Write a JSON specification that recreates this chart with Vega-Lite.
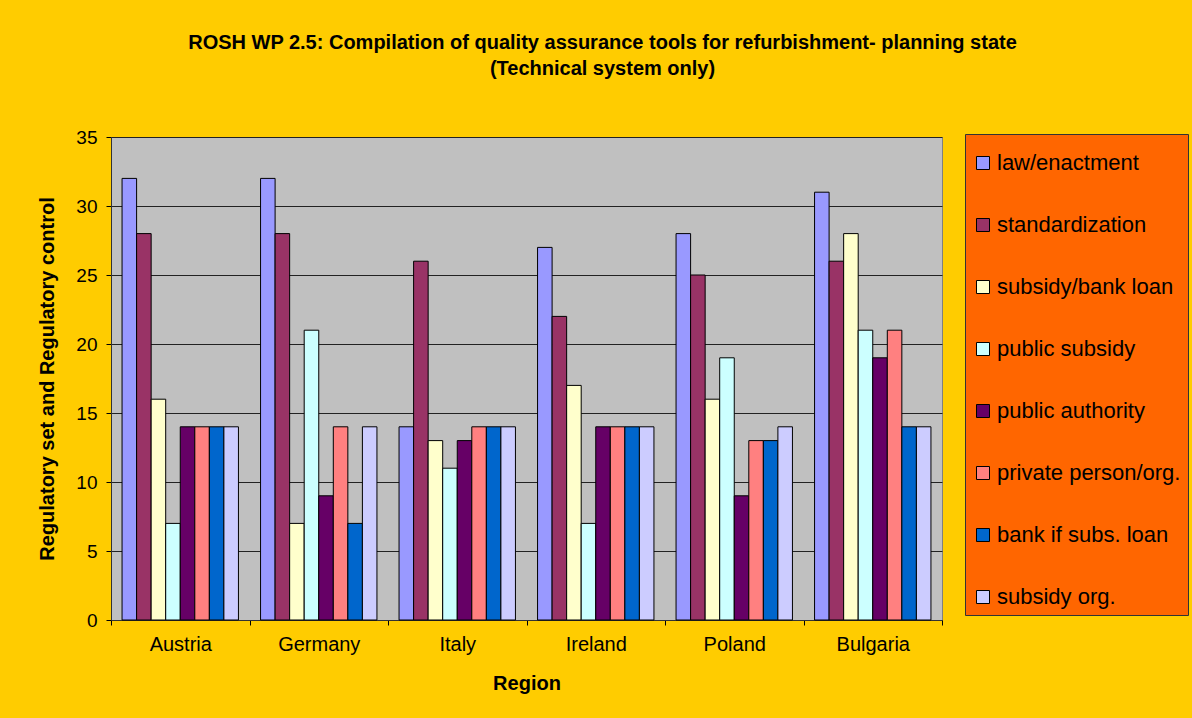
{
  "$schema": "https://vega.github.io/schema/vega-lite/v6.json",
  "autosize": {"type": "none"},
  "width": 831,
  "height": 483,
  "padding": {"left": 111, "top": 137, "right": 250, "bottom": 98},
  "background": "#FFCC00",
  "title": {
    "text": ["ROSH WP 2.5: Compilation of quality assurance tools for refurbishment- planning state", "(Technical system only)"],
    "font": "Liberation Sans",
    "fontSize": 20,
    "fontWeight": "bold",
    "color": "#000000",
    "anchor": "middle",
    "dx": 76,
    "offset": 49,
    "lineHeight": 26
  },
  "config": {
    "view": {"fill": "#C0C0C0", "stroke": "#808080", "strokeWidth": 1},
    "axis": {
      "labelFont": "Liberation Sans",
      "titleFont": "Liberation Sans",
      "labelColor": "#000000",
      "titleColor": "#000000",
      "tickColor": "#000000",
      "domainColor": "#333333",
      "titleFontWeight": "bold"
    }
  },
  "data": {
    "values": [
      {"region": "Austria", "tool": "law/enactment", "value": 32},
      {"region": "Austria", "tool": "standardization", "value": 28},
      {"region": "Austria", "tool": "subsidy/bank loan", "value": 16},
      {"region": "Austria", "tool": "public subsidy", "value": 7},
      {"region": "Austria", "tool": "public authority", "value": 14},
      {"region": "Austria", "tool": "private person/org.", "value": 14},
      {"region": "Austria", "tool": "bank if subs. loan", "value": 14},
      {"region": "Austria", "tool": "subsidy org.", "value": 14},
      {"region": "Germany", "tool": "law/enactment", "value": 32},
      {"region": "Germany", "tool": "standardization", "value": 28},
      {"region": "Germany", "tool": "subsidy/bank loan", "value": 7},
      {"region": "Germany", "tool": "public subsidy", "value": 21},
      {"region": "Germany", "tool": "public authority", "value": 9},
      {"region": "Germany", "tool": "private person/org.", "value": 14},
      {"region": "Germany", "tool": "bank if subs. loan", "value": 7},
      {"region": "Germany", "tool": "subsidy org.", "value": 14},
      {"region": "Italy", "tool": "law/enactment", "value": 14},
      {"region": "Italy", "tool": "standardization", "value": 26},
      {"region": "Italy", "tool": "subsidy/bank loan", "value": 13},
      {"region": "Italy", "tool": "public subsidy", "value": 11},
      {"region": "Italy", "tool": "public authority", "value": 13},
      {"region": "Italy", "tool": "private person/org.", "value": 14},
      {"region": "Italy", "tool": "bank if subs. loan", "value": 14},
      {"region": "Italy", "tool": "subsidy org.", "value": 14},
      {"region": "Ireland", "tool": "law/enactment", "value": 27},
      {"region": "Ireland", "tool": "standardization", "value": 22},
      {"region": "Ireland", "tool": "subsidy/bank loan", "value": 17},
      {"region": "Ireland", "tool": "public subsidy", "value": 7},
      {"region": "Ireland", "tool": "public authority", "value": 14},
      {"region": "Ireland", "tool": "private person/org.", "value": 14},
      {"region": "Ireland", "tool": "bank if subs. loan", "value": 14},
      {"region": "Ireland", "tool": "subsidy org.", "value": 14},
      {"region": "Poland", "tool": "law/enactment", "value": 28},
      {"region": "Poland", "tool": "standardization", "value": 25},
      {"region": "Poland", "tool": "subsidy/bank loan", "value": 16},
      {"region": "Poland", "tool": "public subsidy", "value": 19},
      {"region": "Poland", "tool": "public authority", "value": 9},
      {"region": "Poland", "tool": "private person/org.", "value": 13},
      {"region": "Poland", "tool": "bank if subs. loan", "value": 13},
      {"region": "Poland", "tool": "subsidy org.", "value": 14},
      {"region": "Bulgaria", "tool": "law/enactment", "value": 31},
      {"region": "Bulgaria", "tool": "standardization", "value": 26},
      {"region": "Bulgaria", "tool": "subsidy/bank loan", "value": 28},
      {"region": "Bulgaria", "tool": "public subsidy", "value": 21},
      {"region": "Bulgaria", "tool": "public authority", "value": 19},
      {"region": "Bulgaria", "tool": "private person/org.", "value": 21},
      {"region": "Bulgaria", "tool": "bank if subs. loan", "value": 14},
      {"region": "Bulgaria", "tool": "subsidy org.", "value": 14}
    ]
  },
  "mark": {"type": "bar", "stroke": "#000000", "strokeWidth": 1},
  "encoding": {
    "x": {
      "field": "region",
      "type": "nominal",
      "sort": ["Austria", "Germany", "Italy", "Ireland", "Poland", "Bulgaria"],
      "scale": {"paddingInner": 0, "paddingOuter": 0},
      "axis": {
        "title": "Region",
        "labelAngle": 0,
        "labelFontSize": 20,
        "titleFontSize": 20,
        "tickBand": "extent",
        "tickSize": 5,
        "labelPadding": 9,
        "titlePadding": 19,
        "grid": false
      }
    },
    "xOffset": {
      "field": "tool",
      "type": "nominal",
      "sort": ["law/enactment", "standardization", "subsidy/bank loan", "public subsidy", "public authority", "private person/org.", "bank if subs. loan", "subsidy org."],
      "scale": {"paddingInner": 0, "paddingOuter": 0.76}
    },
    "y": {
      "field": "value",
      "type": "quantitative",
      "scale": {"domain": [0, 35], "nice": false},
      "axis": {
        "title": "Regulatory set and Regulatory control",
        "values": [0, 5, 10, 15, 20, 25, 30, 35],
        "labelFontSize": 19,
        "titleFontSize": 20,
        "tickSize": 5,
        "labelPadding": 9,
        "titlePadding": 18,
        "grid": true,
        "gridColor": "#222222",
        "gridWidth": 1
      }
    },
    "color": {
      "field": "tool",
      "type": "nominal",
      "scale": {
        "domain": ["law/enactment", "standardization", "subsidy/bank loan", "public subsidy", "public authority", "private person/org.", "bank if subs. loan", "subsidy org."],
        "range": ["#9999FF", "#993366", "#FFFFCC", "#CCFFFF", "#660066", "#FF8080", "#0066CC", "#CCCCFF"]
      },
      "legend": {
        "orient": "none",
        "legendX": 854,
        "legendY": -3,
        "title": " ",
        "titleFontSize": 8,
        "titlePadding": 3,
        "fillColor": "#FF6600",
        "strokeColor": "#333333",
        "padding": 7,
        "labelFont": "Liberation Sans",
        "labelFontSize": 22,
        "labelColor": "#000000",
        "labelLimit": 300,
        "symbolType": "square",
        "symbolSize": 169,
        "symbolStrokeColor": "#000000",
        "symbolStrokeWidth": 1,
        "symbolOpacity": 1,
        "rowPadding": 40,
        "labelOffset": 3
      }
    }
  }
}
